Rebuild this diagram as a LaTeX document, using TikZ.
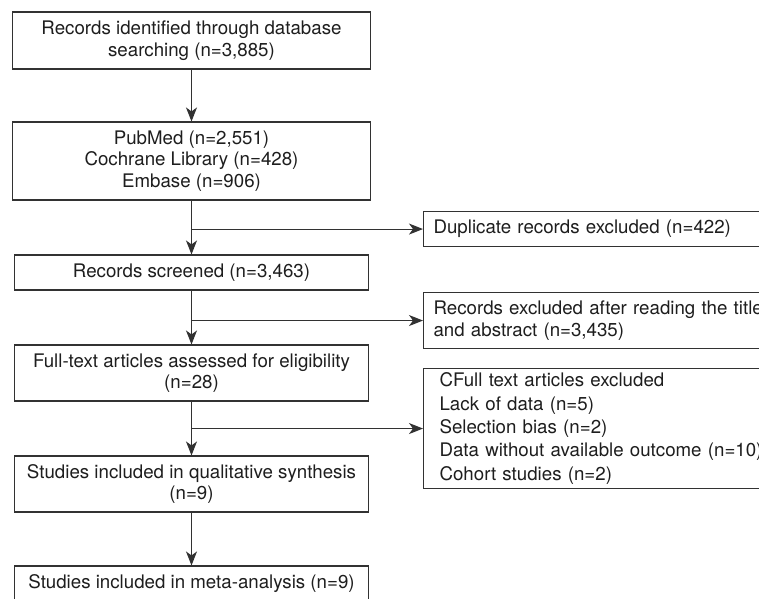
\documentclass[tikz,border=0pt]{standalone}
\usepackage{fontspec}
\setmainfont{TeX Gyre Heros}
\usepackage{xcolor}
\usetikzlibrary{arrows.meta}
\definecolor{linegray}{RGB}{50,50,50}
\definecolor{textblack}{RGB}{30,30,30}

\begin{document}
\begin{tikzpicture}[x=1pt, y=1pt,
    box/.style={draw=linegray, line width=1.1pt, align=center, inner sep=0pt,
        text=textblack, font={\fontsize{18.7}{21.5}\selectfont}},
    rbox/.style={box, align=left, anchor=north west, text width=360pt, inner xsep=10pt},
    arr/.style={draw=linegray, line width=1.1pt, -{Stealth[length=14pt,width=11pt,inset=4pt]}}]

% Frame
\useasboundingbox (0,0) rectangle (759,598);
\clip (0,0) rectangle (759,598);
\fill[white] (0,0) rectangle (759,598);

% Main column
\node[box, minimum width=358, minimum height=57] (ident) at (191.5,557.5)
    {Records identified through database\\searching (n=3,885)};
\node[box, minimum width=358, minimum height=78] (dbs) at (191.5,437)
    {PubMed (n=2,551)\\Cochrane Library (n=428)\\Embase (n=906)};
\node[box, minimum width=354, minimum height=35] (screen) at (191.5,325.5)
    {Records screened (n=3,463)};
\node[box, minimum width=354, minimum height=56] (fulltext) at (191.5,225)
    {Full-text articles assessed for eligibility\\(n=28)};
\node[box, minimum width=354, minimum height=56] (qual) at (191.5,114)
    {Studies included in qualitative synthesis\\(n=9)};
\node[box, minimum width=354, minimum height=35] (meta) at (191.5,14.5)
    {Studies included in meta-analysis (n=9)};

% Exclusion boxes
\node[rbox, minimum height=35] (dup) at (423,387)
    {Duplicate records excluded (n=422)};
\node[rbox, minimum height=56] (excl) at (423,306)
    {Records excluded after reading the title\\and abstract (n=3,435)};
\node[rbox, minimum height=120, inner xsep=16pt,
      font={\fontsize{18.7}{23.3}\selectfont}] (cfull) at (423,230)
    {CFull text articles excluded\\Lack of data (n=5)\\Selection bias (n=2)\\
     Data without available outcome (n=10)\\Cohort studies (n=2)};

% Arrows down
\foreach \a/\b in {ident/dbs, dbs/screen, screen/fulltext, fulltext/qual, qual/meta}
    \draw[arr] (\a.south) -- (\b.north);

% Arrows right
\foreach \r in {dup, excl, cfull}
    \draw[arr] (\r.west -| dbs.south) -- (\r.west);

\end{tikzpicture}
\end{document}
